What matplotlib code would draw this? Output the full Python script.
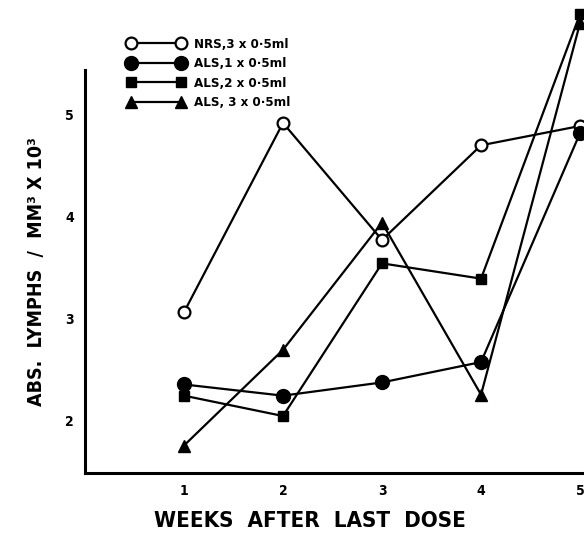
import matplotlib
matplotlib.use("Agg")
import matplotlib.pyplot as plt

weeks = [1, 2, 3, 4, 5]

nrs_3x = [3.06, 4.92, 3.77, 4.70, 4.89]
als_1x = [2.35, 2.24, 2.37, 2.57, 4.82]
als_2x = [2.24, 2.04, 3.54, 3.39, 5.99]
als_3x = [1.75, 2.69, 3.94, 2.25, 5.90]

labels = ["NRS,3 x 0·5ml", "ALS,1 x 0·5ml", "ALS,2 x 0·5ml", "ALS, 3 x 0·5ml"]

plt.rcParams['font.family'] = ['DejaVu Sans']
plt.rcParams['font.stretch'] = 'condensed'

fig = plt.figure(figsize=(5.84, 5.46), dpi=100)
ax = fig.add_axes([0.1455, 0.1337, 0.8545, 0.7381])

kw = dict(color='black', linewidth=1.6, clip_on=False)
ax.plot(weeks, nrs_3x, marker='o', markersize=8.5, markerfacecolor='white',
        markeredgewidth=1.6, label=labels[0], **kw)
ax.plot(weeks, als_1x, marker='o', markersize=10, label=labels[1], **kw)
ax.plot(weeks, als_2x, marker='s', markersize=7.5, label=labels[2], **kw)
ax.plot(weeks, als_3x, marker='^', markersize=9, label=labels[3], **kw)

ax.set_xlim(0, 5.04)
ax.set_ylim(1.48, 5.44)
ax.set_xticks(weeks)
ax.set_yticks([2, 3, 4, 5])

for s in ['top', 'right']:
    ax.spines[s].set_visible(False)
for s in ['left', 'bottom']:
    ax.spines[s].set_linewidth(2.2)

ax.tick_params(axis='both', length=0, labelsize=10, pad=8)
for t in ax.get_xticklabels() + ax.get_yticklabels():
    t.set_fontweight('bold')

ax.set_ylabel("ABS.  LYMPHS  /  MM³ X 10³", fontsize=14, fontweight='bold',
              labelpad=14)
fig.text(0.53, 0.045, "WEEKS  AFTER  LAST  DOSE", fontsize=16,
         fontweight='heavy', ha='center', va='center')

leg = ax.legend(loc='upper left', bbox_to_anchor=(0.06, 1.11), frameon=False,
                numpoints=2, handlelength=4.4, fontsize=9.5,
                labelspacing=0.5, handletextpad=0.7)
for t in leg.get_texts():
    t.set_fontweight('bold')

fig.savefig("out.png", dpi=100)
